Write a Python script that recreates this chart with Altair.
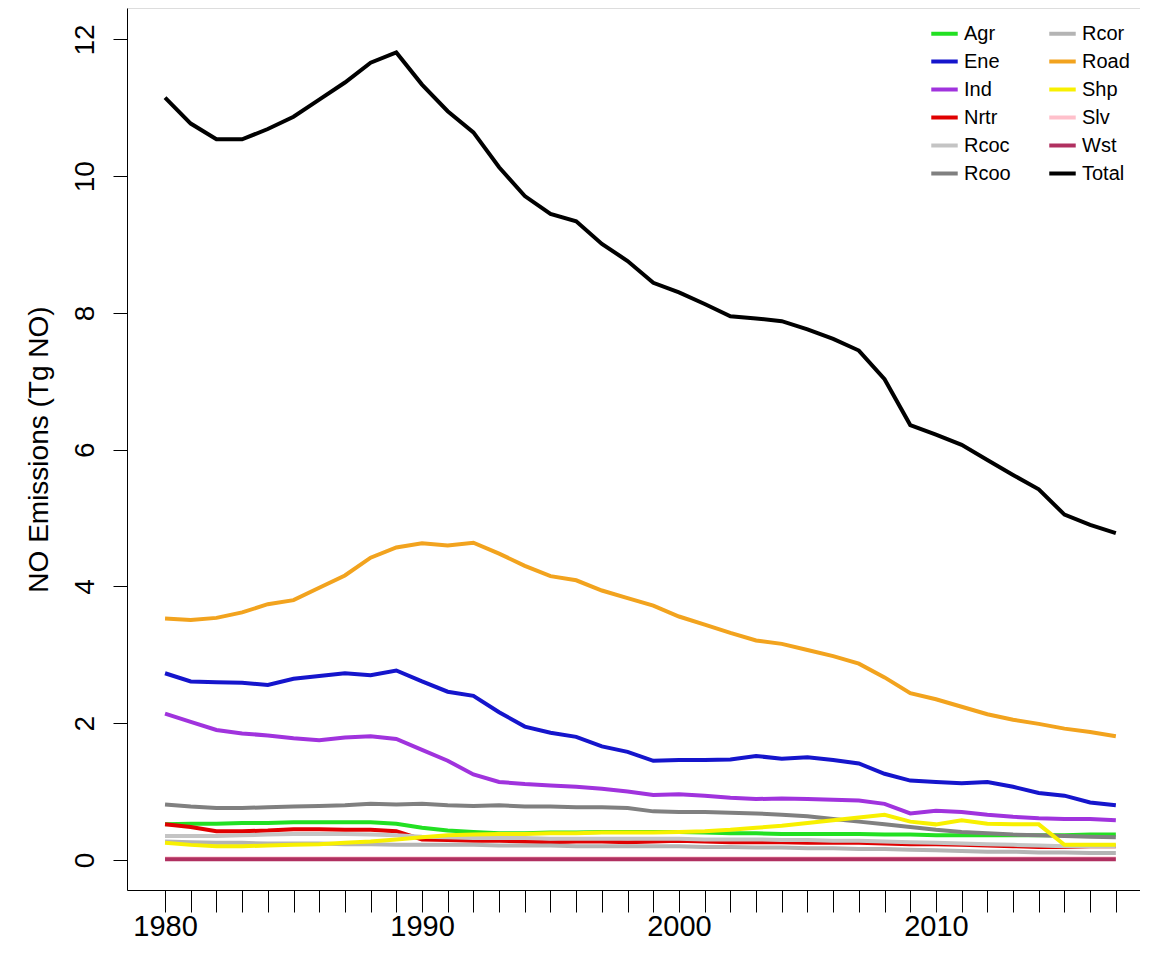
import pandas as pd
import altair as alt

years = list(range(1980, 2018))

Total = [11.15, 10.77, 10.54, 10.54, 10.69, 10.87, 11.12, 11.37, 11.66, 11.81, 11.34, 10.95, 10.64, 10.13, 9.71, 9.45, 9.34, 9.01, 8.76, 8.44,
         8.30, 8.13, 7.95, 7.92, 7.88, 7.76, 7.62, 7.45, 7.03, 6.36, 6.22, 6.07, 5.85, 5.63, 5.42, 5.05, 4.90, 4.78]
Road = [3.53, 3.51, 3.54, 3.62, 3.74, 3.80, 3.98, 4.16, 4.42, 4.57, 4.63, 4.60, 4.64, 4.48, 4.30, 4.15, 4.09, 3.94, 3.83, 3.72,
        3.56, 3.44, 3.32, 3.21, 3.16, 3.07, 2.98, 2.87, 2.67, 2.44, 2.35, 2.24, 2.13, 2.05, 1.99, 1.92, 1.87, 1.81]
Ene = [2.73, 2.61, 2.60, 2.59, 2.56, 2.65, 2.69, 2.73, 2.70, 2.77, 2.61, 2.46, 2.40, 2.16, 1.95, 1.86, 1.80, 1.66, 1.58, 1.45,
       1.46, 1.46, 1.47, 1.52, 1.48, 1.50, 1.46, 1.41, 1.26, 1.16, 1.14, 1.12, 1.14, 1.07, 0.98, 0.94, 0.84, 0.80]
Ind = [2.14, 2.02, 1.90, 1.85, 1.82, 1.78, 1.75, 1.79, 1.81, 1.77, 1.61, 1.45, 1.25, 1.14, 1.11, 1.09, 1.07, 1.04, 1.00, 0.95,
       0.96, 0.94, 0.91, 0.89, 0.90, 0.89, 0.88, 0.87, 0.82, 0.68, 0.72, 0.70, 0.66, 0.63, 0.61, 0.60, 0.60, 0.58]
Rcoo = [0.81, 0.78, 0.76, 0.76, 0.77, 0.78, 0.79, 0.80, 0.82, 0.81, 0.82, 0.80, 0.79, 0.80, 0.78, 0.78, 0.77, 0.77, 0.76, 0.71,
        0.70, 0.70, 0.69, 0.68, 0.66, 0.64, 0.60, 0.56, 0.52, 0.48, 0.44, 0.41, 0.39, 0.37, 0.36, 0.35, 0.34, 0.33]
Agr = [0.52, 0.53, 0.53, 0.54, 0.54, 0.55, 0.55, 0.55, 0.55, 0.53, 0.47, 0.43, 0.41, 0.39, 0.39, 0.40, 0.40, 0.41, 0.41, 0.41,
       0.41, 0.40, 0.39, 0.39, 0.38, 0.38, 0.38, 0.38, 0.37, 0.37, 0.36, 0.36, 0.36, 0.36, 0.36, 0.36, 0.37, 0.37]
Nrtr = [0.52, 0.48, 0.42, 0.42, 0.43, 0.45, 0.45, 0.44, 0.44, 0.42, 0.30, 0.29, 0.28, 0.28, 0.27, 0.26, 0.27, 0.27, 0.26, 0.27,
        0.28, 0.27, 0.26, 0.26, 0.26, 0.25, 0.25, 0.25, 0.24, 0.23, 0.23, 0.22, 0.21, 0.20, 0.19, 0.19, 0.20, 0.20]
Shp = [0.25, 0.22, 0.20, 0.20, 0.21, 0.22, 0.23, 0.25, 0.27, 0.30, 0.33, 0.36, 0.37, 0.38, 0.38, 0.39, 0.39, 0.40, 0.40, 0.40,
       0.41, 0.42, 0.44, 0.47, 0.50, 0.54, 0.58, 0.62, 0.66, 0.56, 0.52, 0.58, 0.53, 0.52, 0.52, 0.22, 0.22, 0.22]
Rcoc = [0.35, 0.35, 0.35, 0.36, 0.37, 0.38, 0.38, 0.38, 0.37, 0.36, 0.34, 0.33, 0.32, 0.32, 0.32, 0.31, 0.31, 0.31, 0.31, 0.31,
        0.31, 0.30, 0.30, 0.30, 0.29, 0.29, 0.28, 0.28, 0.27, 0.26, 0.25, 0.24, 0.23, 0.22, 0.21, 0.20, 0.20, 0.20]
Rcor = [0.27, 0.26, 0.25, 0.25, 0.24, 0.24, 0.24, 0.23, 0.23, 0.22, 0.22, 0.22, 0.22, 0.21, 0.21, 0.21, 0.20, 0.20, 0.20, 0.20,
        0.20, 0.19, 0.19, 0.18, 0.18, 0.17, 0.17, 0.16, 0.16, 0.15, 0.14, 0.13, 0.12, 0.12, 0.11, 0.11, 0.10, 0.10]
Slv = [0.02] * 38
Wst = [0.01] * 38

series = {"Agr": Agr, "Ene": Ene, "Ind": Ind, "Nrtr": Nrtr, "Rcoc": Rcoc, "Rcoo": Rcoo, "Rcor": Rcor,
          "Road": Road, "Shp": Shp, "Slv": Slv, "Wst": Wst, "Total": Total}
colors = {"Agr": "#22e022", "Ene": "#1515cc", "Ind": "#a033dd", "Nrtr": "#e00000", "Rcoc": "#c4c4c4",
          "Rcoo": "#808080", "Rcor": "#b4b4b4", "Road": "#f2a31e", "Shp": "#f8f000", "Slv": "#ffc0cb",
          "Wst": "#b03060", "Total": "#000000"}
names = list(series.keys())

rows = []
for name, vals in series.items():
    for y, v in zip(years, vals):
        rows.append({"Year": y, "Sector": name, "Value": v, "order": names.index(name)})
df = pd.DataFrame(rows)

chart = alt.Chart(df).mark_line(strokeWidth=4).encode(
    x=alt.X("Year:Q", scale=alt.Scale(domain=[1978.52, 2017.94], nice=False, zero=False),
            axis=alt.Axis(values=years, labelExpr="datum.value % 10 == 0 ? datum.value : ''",
                          title=None, grid=False, tickSize=22, labelFontSize=29, labelPadding=0,
                          domainColor="black", tickColor="black")),
    y=alt.Y("Value:Q", scale=alt.Scale(domain=[-0.44, 12.46], nice=False),
            axis=alt.Axis(values=[0, 2, 4, 6, 8, 10, 12], title="NO Emissions (Tg NO)", grid=False,
                          labelAngle=-90, labelAlign="center", labelBaseline="bottom", labelFontSize=28,
                          labelPadding=14, tickSize=14, titleFontSize=28, titleFontWeight="normal",
                          titlePadding=18, domainColor="black", tickColor="black")),
    color=alt.Color("Sector:N", scale=alt.Scale(domain=names, range=[colors[k] for k in names]),
                    legend=alt.Legend(orient="top-right", columns=2, title=None, symbolType="stroke",
                                      symbolStrokeWidth=4, symbolSize=700, labelFontSize=20,
                                      rowPadding=2, columnPadding=30, offset=10)),
    detail="Sector:N",
    order="order:Q",
).properties(
    width=1013, height=882,
    autosize=alt.AutoSizeParams(type="none"),
    padding={"left": 119, "top": 0, "right": 0, "bottom": 50},
).configure_view(stroke=None).configure(font="Liberation Sans")

chart.save("out.html", embed_options={"renderer": "svg", "actions": False})
